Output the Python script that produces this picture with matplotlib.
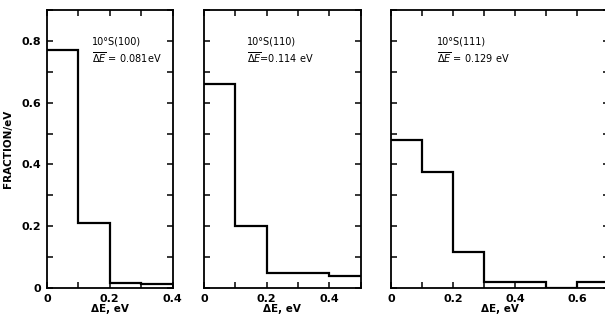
import numpy as np
import matplotlib
matplotlib.use("Agg")
import matplotlib.pyplot as plt

plt.rcParams['font.family'] = ['DejaVu Sans']

# histogram data: fraction per eV in 0.1 eV bins
edges1 = [0.0, 0.1, 0.2, 0.3, 0.4]
frac1 = [0.77, 0.21, 0.016, 0.013]
edges2 = [0.0, 0.1, 0.2, 0.3, 0.4, 0.5]
frac2 = [0.66, 0.20, 0.047, 0.047, 0.039]
edges3 = [0.0, 0.1, 0.2, 0.3, 0.4, 0.5, 0.6, 0.7]
frac3 = [0.48, 0.375, 0.115, 0.02, 0.018, 0.0, 0.02]

labels = ["10°S(100)", "10°S(110)", "10°S(111)"]
means = [r"$\overline{\Delta E}$ = 0.081eV", r"$\overline{\Delta E}$=0.114 eV",
         r"$\overline{\Delta E}$ = 0.129 eV"]
xticks = [[0, 0.2, 0.4], [0, 0.2, 0.4], [0, 0.2, 0.4, 0.6]]
xticklabels = [["0", "0.2", "0.4"], ["0", "0.2", "0.4"], ["0", "0.2", "0.4", "0.6"]]
yticks = [0, 0.2, 0.4, 0.6, 0.8]
yticklabels = ["0", "0.2", "0.4", "0.6", "0.8"]

W, H = 605, 321
fig = plt.figure(figsize=(W / 100, H / 100), dpi=100)

# axes boxes in pixels (left, right)
boxes = [(47, 172.5), (204, 360.5), (391, 608.5)]
top, bot = 10, 288
data = [(edges1, frac1), (edges2, frac2), (edges3, frac3)]
text_x = [92, 247, 437]

for i, ((l, r), (e, f)) in enumerate(zip(boxes, data)):
    ax = fig.add_axes([l / W, (H - bot) / H, (r - l) / W, (bot - top) / H])
    ax.stairs(f, e, baseline=None, color='black', linewidth=1.6)
    ax.set_xlim(e[0], e[-1])
    ax.set_ylim(0, 0.9)
    for s in ax.spines.values():
        s.set_linewidth(1.3)
    ax.set_xticks(np.arange(0, e[-1] + 0.001, 0.1), minor=True)
    ax.set_yticks(np.arange(0, 0.91, 0.1), minor=True)
    ax.set_xticks(xticks[i])
    ax.set_xticklabels(xticklabels[i], fontsize=8, fontweight='bold')
    ax.set_yticks(yticks)
    if i == 0:
        ax.set_yticklabels(yticklabels, fontsize=8, fontweight='bold')
        ax.set_ylabel("FRACTION/eV", fontsize=7.5, fontweight='bold', labelpad=6)
    else:
        ax.set_yticklabels([])
    ax.tick_params(which='both', direction='in', top=True, right=True,
                   length=4, width=1.1, pad=4)
    ax.set_xlabel("ΔE, eV", fontsize=7.5, fontweight='bold', labelpad=0)
    ax.text((text_x[i] - l) / (r - l), 1 - (41 - top) / (bot - top), labels[i],
            transform=ax.transAxes, fontsize=7, va='center', ha='left')
    ax.text((text_x[i] - l) / (r - l), 1 - (58 - top) / (bot - top), means[i],
            transform=ax.transAxes, fontsize=7, va='center', ha='left')

fig.savefig("out.png", dpi=100)
